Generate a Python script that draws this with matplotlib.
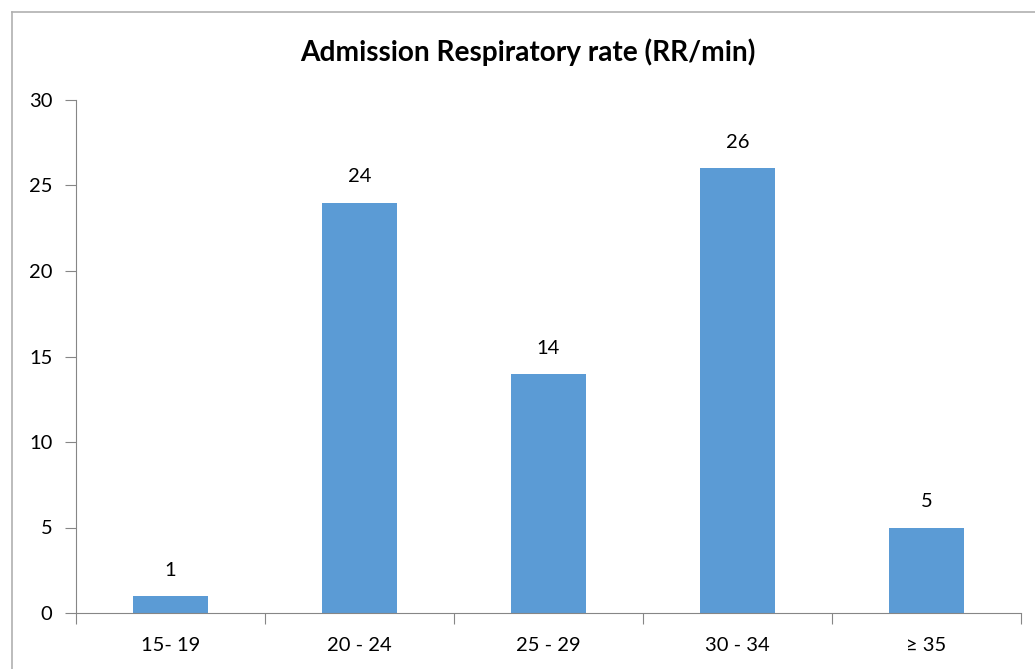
import matplotlib
matplotlib.use("Agg")
import matplotlib.pyplot as plt
from matplotlib.lines import Line2D

categories = ["15- 19", "20 - 24", "25 - 29", "30 - 34", "\u2265 35"]
counts = [1, 24, 14, 26, 5]
yticks = [0, 5, 10, 15, 20, 25, 30]

plt.rcParams['font.family'] = ['Lato', 'DejaVu Sans']

W, H = 1035, 669
fig = plt.figure(figsize=(W / 100, H / 100), dpi=100)
ax = fig.add_axes([76 / W, 1 - 613 / H, (1021 - 76) / W, (613 - 100) / H])

x = range(len(categories))
bars = ax.bar(x, counts, width=0.4, color="#5B9BD5")
for b, v in zip(bars, counts):
    ax.text(b.get_x() + b.get_width() / 2, v + 1.0, str(v),
            ha="center", va="bottom", fontsize=14.5)

ax.set_xlim(-0.5, len(categories) - 0.5)
ax.set_ylim(0, 30)
ax.set_yticks(yticks)
ax.set_xticks([i - 0.5 for i in range(len(categories) + 1)], minor=False)
ax.set_xticklabels([])
ax.set_xticks(list(x), minor=True)
ax.set_xticklabels(categories, minor=True, fontsize=14.5)
ax.tick_params(axis="x", which="major", length=8, color="#868686", direction="out")
ax.tick_params(axis="x", which="minor", length=0, pad=17)
ax.tick_params(axis="y", length=8, color="#868686", labelsize=14.5, pad=9)

for s in ["top", "right"]:
    ax.spines[s].set_visible(False)
for s in ["left", "bottom"]:
    ax.spines[s].set_color("#868686")

fig.text(528 / W, 1 - 52 / H, "Admission Respiratory rate (RR/min)",
         ha="center", va="center", fontsize=20.2, fontweight="bold")

# outer chart border (only left and top edges are inside the image)
bx, by = 11.5 / W, 1 - 11.5 / H
fig.add_artist(Line2D([bx, bx], [0, by], transform=fig.transFigure,
                      color="#B0B0B0", linewidth=1.2))
fig.add_artist(Line2D([bx, 1], [by, by], transform=fig.transFigure,
                      color="#B0B0B0", linewidth=1.2))

fig.savefig("out.png", dpi=100)
